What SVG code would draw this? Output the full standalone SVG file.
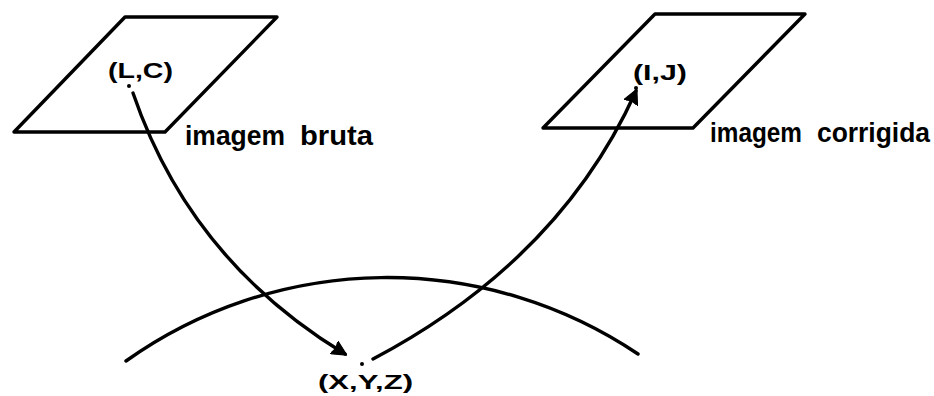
<svg xmlns="http://www.w3.org/2000/svg" width="934" height="396" viewBox="0 0 934 396">
<style>
.ln{fill:none;stroke:#000;stroke-width:3.4;stroke-linejoin:round;stroke-linecap:round}
.lbl{font-family:"Liberation Sans",Arial,sans-serif;font-weight:bold;fill:#000}
.cap{font-size:22px}
.low{font-size:27px}
</style>
<defs>
<marker id="ah" viewBox="0 0 14 14" refX="12" refY="7" markerWidth="15" markerHeight="15" markerUnits="userSpaceOnUse" orient="auto">
<path d="M0,0 L14,7 L0,14 L2,7 z" fill="#000" stroke="#000" stroke-width="1" stroke-linejoin="round"/>
</marker>
</defs>
<rect width="934" height="396" fill="#fff"/>
<g id="imagem-bruta">
<path class="ln" d="M125,17 L277,17 L165,132 L14,132 Z"/>
<text class="lbl cap" x="108" y="78" textLength="65" lengthAdjust="spacingAndGlyphs">(L,C)</text>
<circle cx="129" cy="86" r="2" fill="#000"/>
<text class="lbl low" x="185" y="145" textLength="100" lengthAdjust="spacingAndGlyphs">imagem</text>
<text class="lbl low" x="300" y="145" textLength="73" lengthAdjust="spacingAndGlyphs">bruta</text>
</g>
<g id="imagem-corrigida">
<path class="ln" d="M655,14 L805,14 L693,128 L543,128 Z"/>
<text class="lbl cap" x="633" y="80" textLength="54" lengthAdjust="spacingAndGlyphs">(I,J)</text>
<circle cx="636" cy="88" r="2" fill="#000"/>
<text class="lbl low" x="710" y="142" textLength="92" lengthAdjust="spacingAndGlyphs">imagem</text>
<text class="lbl low" x="817" y="142" textLength="113" lengthAdjust="spacingAndGlyphs">corrigida</text>
</g>
<g id="terra">
<path class="ln" d="M126,361 A450,450 0 0 1 638,354"/>
<circle cx="362" cy="364" r="2" fill="#000"/>
<text class="lbl" x="318" y="389" font-size="20" textLength="95" lengthAdjust="spacingAndGlyphs">(X,Y,Z)</text>
</g>
<g id="connectors">
<path class="ln" d="M133,93 Q190,260 345,354" marker-end="url(#ah)"/>
<path class="ln" d="M373,359 Q560,260 636,91" marker-end="url(#ah)"/>
</g>
</svg>
